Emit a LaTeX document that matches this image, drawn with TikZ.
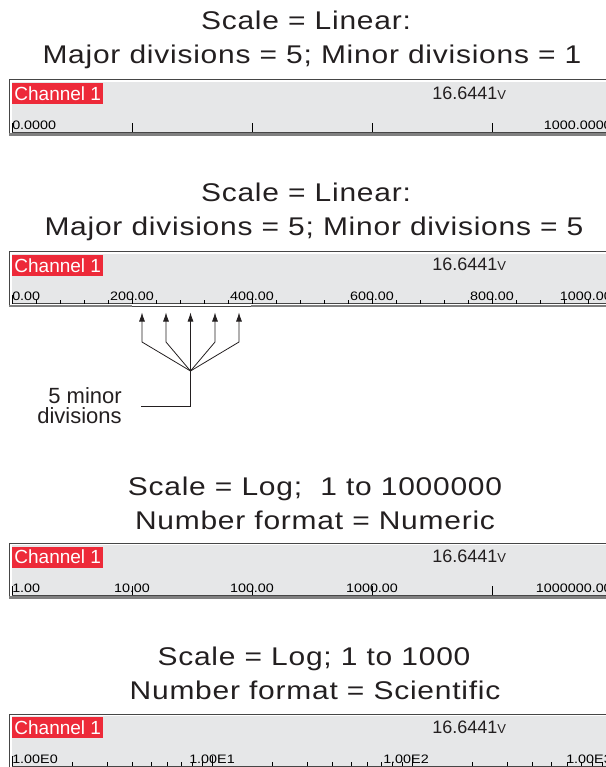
\documentclass[tikz,border=0pt]{standalone}
\usepackage{fontspec}
\setmainfont{Liberation Sans}
\newfontfamily\titlefont[FakeStretch=1.17, LetterSpace=3]{Liberation Sans}
\newfontfamily\axisfont[FakeStretch=1.17]{Liberation Sans}
\usepackage{tikz}
\usetikzlibrary{arrows.meta,positioning,calc}
\definecolor{tagred}{RGB}{237,42,57}
\definecolor{barfill}{RGB}{230,231,232}
\definecolor{barframe}{RGB}{70,70,70}
\definecolor{barshade}{RGB}{128,128,128}
\definecolor{inkgray}{RGB}{35,31,32}

\begin{document}
\begin{tikzpicture}[
  x=0.75pt, y=-0.75pt,
  title/.style={font=\titlefont\fontsize{19.2}{25.5}\selectfont, text=inkgray, inner sep=0pt, anchor=base},
  chantag/.style={fill=tagred, text=white, font=\fontsize{14.25}{14.25}\selectfont, inner sep=0pt, minimum width=68.25pt, minimum height=15.75pt, anchor=north west},
  readout/.style={font=\fontsize{13.5}{13.5}\selectfont, text=inkgray, inner sep=0pt, anchor=base west},
  ticklabel/.style={font=\axisfont\fontsize{9.2}{9.2}\selectfont, text=black, inner sep=0pt, anchor=base},
  majortick/.style={draw=black, line width=0.7pt},
  minortick/.style={draw=black, line width=0.7pt},
  pointer/.style={-{Latex[length=6.75pt,width=4.5pt]}, line width=0.6pt, draw=inkgray},
  leader/.style={line width=0.6pt, draw=inkgray},
  notetext/.style={font=\fontsize{16.5}{15.2}\selectfont, text=inkgray, align=right, inner sep=0pt}
]
\useasboundingbox (0,0) rectangle (606,767);
\clip (0,0) rectangle (606,767);

% titles
\node[title] (h1a) at (306,30) {Scale = Linear:};
\node[title] (h1b) at (312,64) {Major divisions = 5; Minor divisions = 1};
\node[title] (h2a) at (306,201.7) {Scale = Linear:};
\node[title] (h2b) at (314,235.7) {Major divisions = 5; Minor divisions = 5};
\node[title] (h3a) at (315,495) {Scale = Log;\ \ 1 to 1000000};
\node[title] (h3b) at (315,529) {Number format = Numeric};
\node[title] (h4a) at (314,665) {Scale = Log; 1 to 1000};
\node[title] (h4b) at (315,699) {Number format = Scientific};

% channel bars
\foreach \t/\n in {80/1, 251.7/2, 543.3/3, 714/4} {
  \draw[barframe, fill=white, line width=0.75pt] (9,\t) rectangle (640,\t+55);
  \fill[barfill] (12,\t+2) rectangle (640,\t+52);
  \draw[barframe, line width=0.75pt] (12,\t+52) -- (640,\t+52);
  \node[chantag] (tag\n) at (12,\t+3) {Channel 1};
  \node[readout] (val\n) at (432,\t+19) {16.6441{\fontsize{9.75}{9.75}\selectfont V}};
}
\fill[barshade] (9,133) rectangle (640,135.5);
\fill[barshade] (9,304.7) rectangle (132,307.2);
\fill[barshade] (251,304.7) rectangle (640,307.2);
\fill[barshade] (9,596.3) rectangle (640,598.8);

% bar 1: linear, 5 major / 1 minor
\foreach \x in {12,132,...,612} \draw[majortick] (\x,132) -- ++(0,-9);
\node[ticklabel, anchor=base west] (b1lo) at (12,129) {0.0000};
\node[ticklabel, anchor=base east] (b1hi) at (612,129) {1000.0000};

% bar 2: linear, 5 major / 5 minor
\foreach \x in {12,36,...,612} \draw[minortick] (\x,303.7) -- ++(0,-3.5);
\foreach \x in {12,132,...,612} \draw[majortick] (\x,303.7) -- ++(0,-9);
\node[ticklabel, anchor=base west] (b2lo) at (12,300.7) {0.00};
\foreach \x/\v in {132/200.00, 252/400.00, 372/600.00, 492/800.00}
  \node[ticklabel] (b2m\x) at (\x,300.7) {\v};
\node[ticklabel, anchor=base east] (b2hi) at (612,300.7) {1000.00};

% bar 3: log, numeric
\foreach \x in {12,132,...,612} \draw[majortick] (\x,595.3) -- ++(0,-9);
\node[ticklabel, anchor=base west] (b3lo) at (12,592.3) {1.00};
\foreach \x/\v in {132/10.00, 252/100.00, 372/1000.00}
  \node[ticklabel] (b3m\x) at (\x,592.3) {\v};
\node[ticklabel, anchor=base east] (b3hi) at (612,592.3) {1000000.00};

% bar 4: log, scientific
\foreach \d in {0,1,2}
  \foreach \k in {2,...,9}
    \draw[minortick] ({12+200*\d+200*log10(\k)},766) -- ++(0,-4);
\foreach \x in {12,212,412,612} \draw[majortick] (\x,766) -- ++(0,-10);
\node[ticklabel, anchor=base west] (b4lo) at (12,763) {1.00E0};
\node[ticklabel] (b4m1) at (212,763) {1.00E1};
\node[ticklabel] (b4m2) at (406,763) {1.00E2};
\node[ticklabel, anchor=base east] (b4hi) at (612,763) {1.00E3};

% minor division callout
\coordinate (hub) at (190.5,371);
\foreach \x [count=\i] in {142,166,190.5,215,239} {
  \coordinate (tip\i) at (\x,312.5);
  \draw[pointer] (hub) -- (\x,342) -- (tip\i);
}
\coordinate (elbow) at (141,406);
\draw[leader] (hub) |- (elbow);
\node[notetext, anchor=east] (note) at (122,405.5) {5 minor\\divisions};
\end{tikzpicture}
\end{document}
